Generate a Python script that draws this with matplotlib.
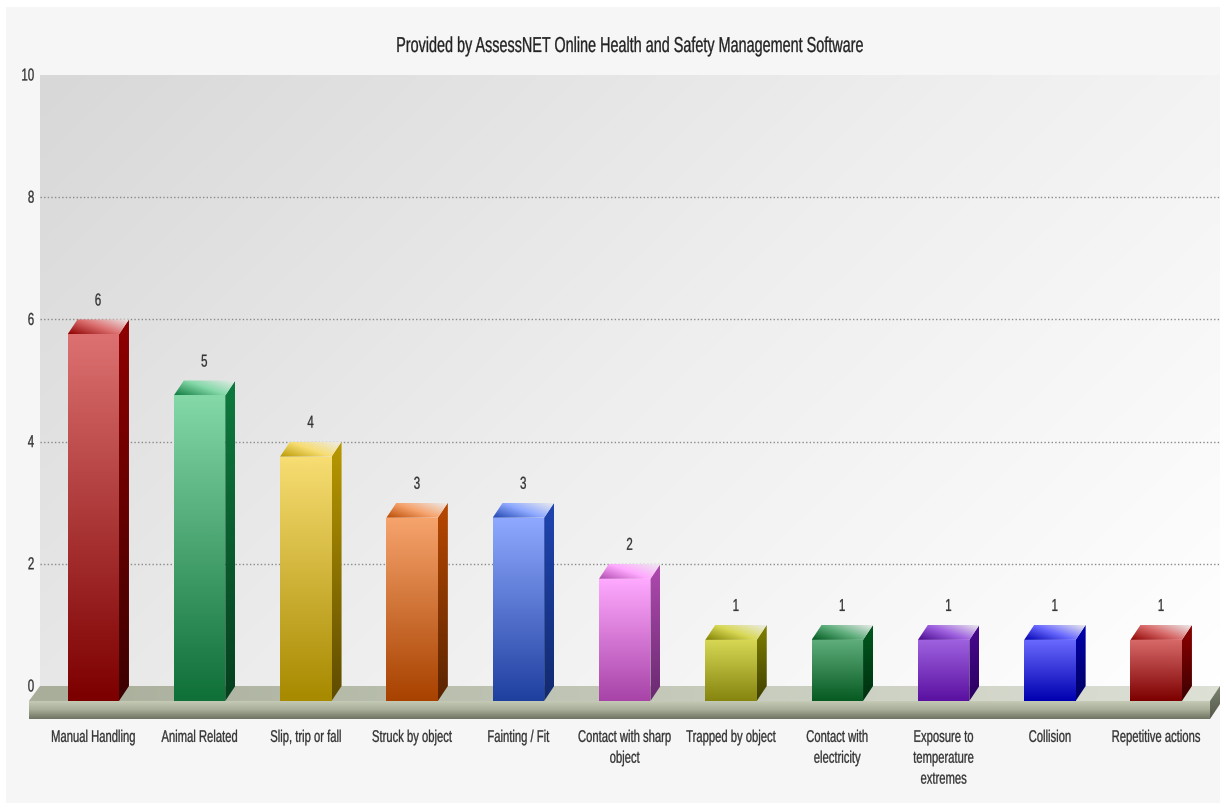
import matplotlib
matplotlib.use('Agg')
import matplotlib.pyplot as plt
import matplotlib.patheffects as pe
from matplotlib.colors import LinearSegmentedColormap
from matplotlib.patches import Polygon
from matplotlib.transforms import Affine2D
import numpy as np

plt.rcParams['font.family'] = ['Liberation Sans', 'DejaVu Sans']

categories = ['Manual Handling', 'Animal Related', 'Slip, trip or fall', 'Struck by object',
              'Fainting / Fit', 'Contact with sharp\nobject', 'Trapped by object',
              'Contact with\nelectricity', 'Exposure to\ntemperature\nextremes',
              'Collision', 'Repetitive actions']
values = [6, 5, 4, 3, 3, 2, 1, 1, 1, 1, 1]
y_ticks = [0, 2, 4, 6, 8, 10]
title = 'Provided by AssessNET Online Health and Safety Management Software'

# bar colours: front top, front bottom, side top, side bottom
front_top = ['#dc7070', '#84d8a8', '#f7dd72', '#f6a36c', '#8ea9ff', '#ffa9ff',
             '#d8d855', '#5fae7c', '#9f62e0', '#6a6aff', '#d86a6a']
front_bot = ['#7d0000', '#0f7038', '#a88a00', '#a84200', '#2040a0', '#a844a8',
             '#858510', '#075a22', '#5a10a0', '#0000b0', '#7d0000']
side_top = ['#8f0000', '#0e7a3e', '#b89800', '#b84800', '#1f45b0', '#b04ab0',
            '#808000', '#00591f', '#4a0a90', '#0000b0', '#8f0000']
side_bot = ['#3d0000', '#05401f', '#5f4c00', '#5a2400', '#122a70', '#6a2a70',
            '#404000', '#003010', '#2a0060', '#000060', '#3d0000']

W, H = 1231, 805
fig = plt.figure(figsize=(W / 100, H / 100), dpi=100, facecolor='white')

# back wall spans 40..1220 px across and 75..686 px down
ax = fig.add_axes([40 / W, 1 - 686 / H, 1180 / W, 611 / H])
xlim = (-0.501, 10.6)
ax.axis('off')

bar_w = 0.484
dx = 0.094    # depth offset in x units
dy = 0.245    # depth offset in y units
slab = 0.295  # floor thickness


class Tall(pe.AbstractPathEffect):
    # stretches glyphs upward from their baseline and thickens them a little
    def __init__(self, sy, lw=0.2):
        super().__init__()
        self.sy = sy
        self.lw = lw

    def draw_path(self, renderer, gc, tpath, affine, rgbFace=None):
        _, y0 = affine.transform((0, 0))
        stretch = Affine2D().translate(0, -y0).scale(1, self.sy).translate(0, y0)
        gc0 = renderer.new_gc()
        gc0.copy_properties(gc)
        gc0.set_foreground(rgbFace)
        gc0.set_linewidth(self.lw)
        renderer.draw_path(gc0, tpath, affine + stretch, rgbFace)
        gc0.restore()


tall = [Tall(1.5)]


def fill(poly, img, cmap, z):
    # paint img inside the polygon only
    xs, ys = zip(*poly)
    im = ax.imshow(img, cmap=cmap, vmin=0, vmax=1, aspect='auto', origin='upper', zorder=z,
                   extent=(min(xs), max(xs), min(ys), max(ys)), interpolation='bilinear')
    patch = Polygon(poly, closed=True, transform=ax.transData, fc='none', ec='none')
    ax.add_patch(patch)
    im.set_clip_box(fig.bbox)
    im.set_clip_path(patch)


def ramp(*colors):
    return LinearSegmentedColormap.from_list('ramp', list(colors))


vert = np.linspace(0, 1, 64).reshape(-1, 1)
horiz = np.linspace(0, 1, 64).reshape(1, -1)
u, w = np.meshgrid(np.linspace(0, 1, 128), np.linspace(0, 1, 128))

# outer panel behind everything
bg = fig.add_axes([6 / W, 1 - 803 / H, 1214 / W, 796 / H], zorder=-1)
bg.set_facecolor('#f6f6f6')
bg.set_xticks([])
bg.set_yticks([])
for s in bg.spines.values():
    s.set_visible(False)

# diagonal shading of the wall
fill([(xlim[0], 0), (xlim[1], 0), (xlim[1], 10), (xlim[0], 10)], u * 0.65 + w * 0.35,
     ramp('#d8d8d8', '#eeeeee', '#ffffff'), 0)

for t in y_ticks[1:-1]:
    ax.plot(xlim, [t, t], color='#8a8a8a', lw=1, ls=(0, (1, 1.6)), zorder=1)

# floor slab: top surface, front edge, right end
x0, x1 = xlim[0] - dx - 0.01, xlim[1] - dx
fill([(x0, -dy), (x1, -dy), (xlim[1], 0), (xlim[0], 0)], horiz, ramp('#a8ae9a', '#dde0d5'), 2)
fill([(x0, -dy), (x1, -dy), (x1, -dy - slab), (x0, -dy - slab)], vert, ramp('#c8cdb9', '#a8ae98', '#6e7462'), 2)
fill([(x1, -dy), (xlim[1], 0), (xlim[1], -slab), (x1, -dy - slab)], vert, ramp('#7c8270', '#54594a'), 2)

for i, v in enumerate(values):
    left = i - bar_w / 2
    right = i + bar_w / 2
    base = -dy
    top = v - dy
    fill([(left, base), (right, base), (right, top), (left, top)], vert, ramp(front_top[i], front_bot[i]), 4)
    fill([(right, base), (right + dx, 0), (right + dx, v), (right, top)], vert, ramp(side_top[i], side_bot[i]), 4)
    # lid runs from the dark front left corner to the pale back right corner
    fill([(left, top), (right, top), (right + dx, v), (left + dx, v)], u * 0.6 + (1 - w) * 0.4,
         ramp(side_top[i], front_top[i], '#ececec'), 4)
    ax.text(i + 0.045, v + 0.228, str(v), ha='center', va='baseline', fontsize=8.3, color='#333333',
            zorder=6, path_effects=tall)
    ax.text(i, -0.784, categories[i], ha='center', va='top', fontsize=8.1, color='#333333',
            linespacing=2.36, zorder=6, path_effects=tall)

ax.set_xlim(*xlim)
ax.set_ylim(0, 10)

for t in y_ticks:
    ax.text(-0.555, t - 0.09, str(t), ha='right', va='baseline', fontsize=8.3, color='#333333',
            path_effects=tall)

fig.text(630 / W, 1 - 52 / H, title, ha='center', va='baseline', fontsize=10.37, color='#222222',
         path_effects=tall)

fig.savefig('out.png', dpi=100)
